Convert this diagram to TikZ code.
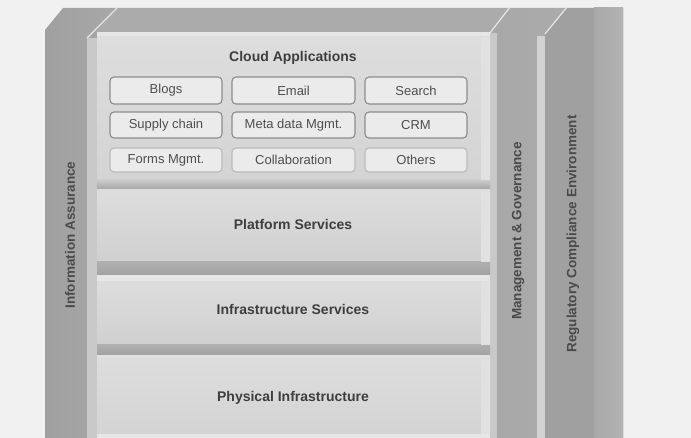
\documentclass[tikz,border=0pt]{standalone}
\usepackage{fontspec}
\setmainfont{Liberation Sans}
\definecolor{bg}{HTML}{F1F1F1}
\definecolor{rail}{HTML}{ABABAB}
\definecolor{pillar}{HTML}{A8A8A8}
\definecolor{pillardk}{HTML}{A0A0A0}
\definecolor{strip}{HTML}{C9C9C9}
\definecolor{hilite}{HTML}{E6E6E6}
\definecolor{layer}{HTML}{D4D4D4}
\definecolor{layertop}{HTML}{DDDDDD}
\definecolor{sep}{HTML}{A2A2A2}
\definecolor{btnfill}{HTML}{EBEBEB}
\definecolor{btnedge}{HTML}{8C8C8C}
\definecolor{txt}{HTML}{3E3E3E}
\definecolor{txtb}{HTML}{4E4E4E}
\definecolor{txtp}{HTML}{4A4A4A}
\tikzset{
  btn/.style={draw=btnedge, line width=1.1pt, rounded corners=4pt, fill=btnfill,
    inner sep=0pt, font=\fontsize{13}{13}\selectfont, text=txtb},
  layerlbl/.style={font=\bfseries\fontsize{14}{14}\selectfont, text=txt},
  pillarlbl/.style={rotate=90, font=\bfseries\fontsize{13.5}{13.5}\selectfont, text=txtp},
  edgeline/.style={draw=hilite, line width=1.2pt},
}
\begin{document}
\begin{tikzpicture}[x=1pt,y=1pt]
\useasboundingbox (0,0) rectangle (691,-438);
\fill[bg] (0,0) rectangle (691,-438);

% left pillar with bevelled top
\shade[left color=pillardk, right color=pillar]
  (45,-438) -- (45,-30) -- (63,-8) -- (118,-8) -- (97,-32) -- (97,-438) -- cycle;
\fill[strip] (87,-38) rectangle (97,-438);
\draw[edgeline] (87,-38) -- (118,-7);

% top rail
\fill[rail] (118,-8) -- (510,-8) -- (490,-32) -- (97,-32) -- cycle;

% management pillar
\shade[left color=pillar, right color=rail]
  (490,-32) -- (510,-8) -- (567,-8) -- (545,-33) -- (545,-438) -- (490,-438) -- cycle;
\fill[strip] (490,-33) rectangle (497,-438);
\fill[strip!70!hilite] (537,-36) rectangle (545,-438);
\draw[edgeline] (490,-33) -- (510,-7);

% far right pillar
\fill[pillardk] (545,-33) -- (567,-8) -- (623,-8) -- (623,-438) -- (545,-438) -- cycle;
\shade[left color=pillar, right color=rail!90!white] (594,-8) rectangle (623,-438);
\draw[edgeline] (545,-34) -- (567,-7);

% main stack of layers
\fill[hilite] (97,-32) rectangle (490,-37);
\shade[top color=layertop, bottom color=layer] (97,-37) rectangle (490,-180);
\shade[top color=layer!80!sep, bottom color=sep] (97,-180) rectangle (490,-190);
\shade[top color=layertop, bottom color=layer!92!sep] (97,-190) rectangle (490,-262);
\shade[top color=sep!75!layer, bottom color=sep] (97,-262) rectangle (490,-275);
\fill[hilite] (97,-275) rectangle (490,-282);
\shade[top color=layertop, bottom color=layer!92!sep] (97,-282) rectangle (490,-345);
\shade[top color=sep!75!layer, bottom color=sep] (97,-345) rectangle (490,-355);
\fill[hilite!70!layer] (97,-355) rectangle (490,-359);
\shade[top color=layertop, bottom color=layer] (97,-359) rectangle (490,-434);
\fill[hilite] (97,-434) rectangle (490,-438);
\fill[hilite!75!layer] (481,-37) rectangle (490,-180);
\fill[hilite!75!layer] (481,-190) rectangle (490,-262);
\fill[hilite!75!layer] (481,-282) rectangle (490,-345);
\fill[hilite!75!layer] (481,-359) rectangle (490,-434);

% layer titles
\node[layerlbl] (apps) at (293,-58) {Cloud Applications};
\node[layerlbl] (paas) at (293,-224) {Platform Services};
\node[layerlbl] (iaas) at (293,-309) {Infrastructure Services};
\node[layerlbl] (phys) at (293,-398) {Physical Infrastructure};

% application buttons
\node[btn, minimum width=112pt, minimum height=27pt] (blogs)  at (166,-90.5) {Blogs};
\node[btn, minimum width=123pt, minimum height=27pt] (email)  at (293.5,-90.5) {Email};
\node[btn, minimum width=102pt, minimum height=27pt] (search) at (416,-90.5) {Search};
\node[btn, minimum width=112pt, minimum height=26pt] (supply) at (166,-125) {Supply chain};
\node[btn, minimum width=123pt, minimum height=26pt] (meta)   at (293.5,-125) {Meta data Mgmt.};
\node[btn, minimum width=102pt, minimum height=26pt] (crm)    at (416,-125) {CRM};
\node[btn, draw=btnedge!60, minimum width=112pt, minimum height=24pt] (forms)  at (166,-160) {Forms Mgmt.};
\node[btn, draw=btnedge!60, minimum width=123pt, minimum height=24pt] (collab) at (293.5,-160) {Collaboration};
\node[btn, draw=btnedge!60, minimum width=102pt, minimum height=24pt] (others) at (416,-160) {Others};

% pillar titles
\node[pillarlbl] (assure) at (70,-235) {Information Assurance};
\node[pillarlbl] (govern) at (518,-231) {Management \& Governance};
\node[pillarlbl] (comply) at (573,-234) {Regulatory Compliance Environment};
\end{tikzpicture}
\end{document}
